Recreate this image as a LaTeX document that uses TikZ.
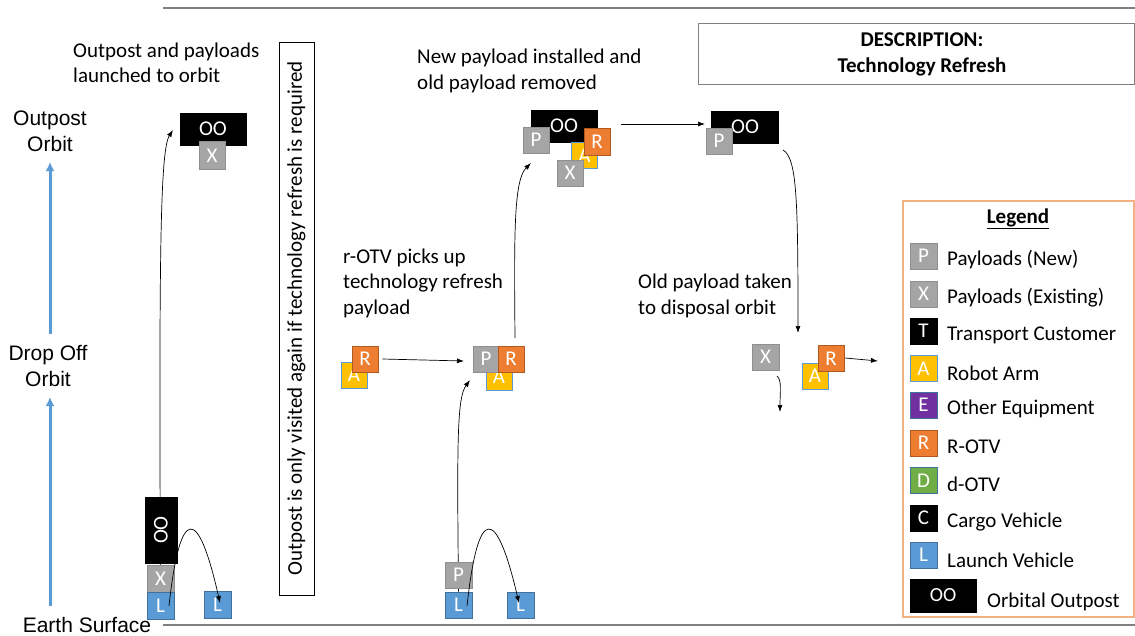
\documentclass[tikz,border=0pt]{standalone}
\usepackage{fontspec}
\setmainfont{Carlito}
\newfontfamily\arialf{Liberation Sans}
\usetikzlibrary{arrows.meta,backgrounds}

\definecolor{pgray}{HTML}{A5A5A5}
\definecolor{pgrayd}{HTML}{8F8F8F}
\definecolor{lblue}{HTML}{5B9BD5}
\definecolor{lblued}{HTML}{41719C}
\definecolor{ayel}{HTML}{FFC000}
\definecolor{rorg}{HTML}{ED7D31}
\definecolor{rorgd}{HTML}{AE5A21}
\definecolor{epur}{HTML}{7030A0}
\definecolor{dgrn}{HTML}{70AD47}
\definecolor{legline}{HTML}{F4B183}
\definecolor{rule}{HTML}{808080}

\tikzset{
  tag/.style={draw, minimum width=26, minimum height=26, inner sep=0, text=white,
    font=\fontsize{21}{21}\selectfont, line width=0.8},
  pbox/.style={tag, fill=pgray, draw=pgrayd},
  lbox/.style={tag, fill=lblue, draw=lblued},
  abox/.style={tag, fill=ayel, draw=lblue},
  rbox/.style={tag, fill=rorg, draw=rorgd},
  ebox/.style={tag, fill=epur, draw=lblued},
  dbox/.style={tag, fill=dgrn, draw=lblued},
  kbox/.style={tag, fill=black, draw=black},
  oobox/.style={tag, fill=black, draw=black, minimum width=66, minimum height=32,
    font=\fontsize{21}{21}\selectfont},
  conn/.style={-{Latex[length=7,width=5]}, line width=0.7},
  lbl/.style={font=\fontsize{21}{25.5}\selectfont, align=left, inner sep=0, anchor=west},
  axis/.style={font=\arialf\fontsize{21}{26}\selectfont, align=center, inner sep=0},
  axisarrow/.style={draw=lblue, line width=3, -{Latex[length=9,width=9]}},
  legtxt/.style={font=\fontsize{21}{21}\selectfont, inner sep=0, anchor=west},
}

\begin{document}
\begin{tikzpicture}[x=1pt,y=-1pt]
\useasboundingbox (0,0) rectangle (1135,635);

% frame rules
\draw[rule, line width=1.5] (163,8) -- (1135,8);
\draw[rule, line width=1.5] (163,625) -- (1135,625);

% altitude axis
\node[axis] (oorb) at (50,131) {Outpost\\Orbit};
\node[axis] (dorb) at (48,366) {Drop Off\\Orbit};
\node[axis] (earth) at (87,625) {Earth Surface};
\coordinate (ax1s) at (50,606);
\coordinate (ax1e) at (50,397);
\coordinate (ax2s) at (50,334);
\coordinate (ax2e) at (50,162);
\draw[axisarrow] (ax1s) -- (ax1e);
\draw[axisarrow] (ax2s) -- (ax2e);

% stage 1: launch of the outpost
\node[lbl] (t1) at (73,63) {Outpost and payloads\\launched to orbit};
\node[oobox] (oo1) at (213,129) {OO};
\node[pbox, minimum height=28] (x1) at (212,155.5) {X};

\node[oobox, minimum width=32, minimum height=66] (oo2) at (161,530) {\rotatebox{90}{OO}};
\node[pbox, minimum width=27, minimum height=27] (x2) at (160.5,578.5) {X};
\node[lbox, minimum width=27, minimum height=27] (l1) at (160.5,606) {L};
\node[lbox, minimum width=27, minimum height=27] (l2) at (217.5,605) {L};

% note box
\node[draw, line width=0.9, rotate=90, minimum width=553, minimum height=35, inner sep=0,
      font=\fontsize{21}{21}\selectfont] (note) at (296.5,318.5)
  {Outpost is only visited again if technology refresh is required};

% stage 2: r-OTV collects the new payload
\node[lbl] (t2) at (343,283) {r-OTV picks up\\technology refresh\\payload};
\node[abox] (a2) at (354,375) {A};
\node[rbox] (r2) at (365,359) {R};

\node[abox] (a3) at (499,377) {A};
\node[pbox] (p3) at (486,359) {P};
\node[rbox] (r3) at (511,359) {R};

\node[pbox, minimum width=27] (p4) at (458.5,575) {P};
\node[lbox, minimum width=27] (l4) at (458.5,605) {L};
\node[lbox, minimum width=27] (l5) at (520.5,605) {L};

% stage 3: payload swap at the outpost
\node[lbl] (t3) at (417,71) {New payload installed and\\old payload removed};
\node[oobox] (oo3) at (564,126) {OO};
\node[pbox] (p5) at (536,140) {P};
\node[abox] (a5) at (584.5,155.5) {A};
\node[pbox] (x5) at (570,173) {X};
\node[rbox, minimum height=27] (r5) at (597,141.5) {R};

% stage 4: refreshed outpost and disposal
\node[oobox, minimum width=67] (oo4) at (745,127) {OO};
\node[pbox] (p6) at (719,141) {P};

\node[lbl] (t4) at (638,296) {Old payload taken\\to disposal orbit};
\node[pbox, minimum width=27] (x6) at (765.5,357) {X};
\node[abox] (a6) at (815,376) {A};
\node[rbox] (r6) at (831,358.5) {R};

% description
\node[draw=rule, line width=1, minimum width=436, minimum height=61, inner sep=0]
  (desc) at (916.5,53.5) {};
\node[font=\bfseries\fontsize{21}{26}\selectfont, align=center, inner sep=0]
  (desct) at (922,54) {DESCRIPTION:\\Technology Refresh};

% legend
\node[draw=legline, line width=1.2, minimum width=231, minimum height=416, inner sep=0]
  (leg) at (1018.5,409) {};
\node[font=\bfseries\fontsize{21}{21}\selectfont, inner sep=0] (legt) at (1018,219) {\underline{Legend}};
\node[pbox, minimum width=27] (k1) at (923.5,256) {P};
\node[legtxt] at (947,260) {Payloads (New)};
\node[pbox, minimum width=27] (k2) at (923.5,294) {X};
\node[legtxt] at (947,298) {Payloads (Existing)};
\node[kbox, minimum width=27] (k3) at (923.5,331) {T};
\node[legtxt] at (947,335) {Transport Customer};
\node[abox, minimum width=27] (k4) at (923.5,368.5) {A};
\node[legtxt] at (947,373) {Robot Arm};
\node[ebox, minimum width=27] (k5) at (923.5,405) {E};
\node[legtxt] at (947,409) {Other Equipment};
\node[rbox, minimum width=27] (k6) at (923.5,443) {R};
\node[legtxt] at (947,447) {R-OTV};
\node[dbox, minimum width=27] (k7) at (923.5,480.5) {D};
\node[legtxt] at (947,484) {d-OTV};
\node[kbox, minimum width=27] (k8) at (923.5,518) {C};
\node[legtxt] at (947,522) {Cargo Vehicle};
\node[lbox, minimum width=27] (k9) at (923.5,555) {L};
\node[legtxt] at (947,560) {Launch Vehicle};
\node[oobox, minimum height=33, font=\fontsize{20}{20}\selectfont] (k10) at (943,595.5) {OO};
\node[legtxt] at (987,602) {Orbital Outpost};

% connector end points
\coordinate (e1) at (173,130);
\coordinate (e3) at (464,361);
\coordinate (e4) at (470,380);
\coordinate (s5) at (515,338);
\coordinate (e5) at (531,163);
\coordinate (s6) at (621,124);
\coordinate (e6) at (705,124);
\coordinate (s7) at (783,150);
\coordinate (e7) at (798,333);
\coordinate (s8) at (777,376);
\coordinate (e8) at (780,412);
\coordinate (s9) at (845,358);
\coordinate (e9) at (878,361);
\coordinate (h1s) at (169,606);
\coordinate (h1e) at (220,603);
\coordinate (h2s) at (467,606);
\coordinate (h2e) at (519,603);

% transfers drawn behind the vehicles
\begin{scope}[on background layer]
  \draw[conn] (l1.north) .. controls (159,260) and (160,150) .. (e1);
  \draw[conn] (l4.north) .. controls (457,440) and (457,398) .. (e4);
\end{scope}

\draw[conn] ([xshift=4pt]r2.east) -- (e3);
\draw[conn] (s5) .. controls (514,230) and (514,180) .. (e5);
\draw[conn] (s6) -- (e6);
\draw[conn] (s7) .. controls (797,158) and (798,200) .. (e7);
\draw[conn] (s8) .. controls (782,380) and (780,392) .. (e8);
\draw[conn] (s9) -- (e9);

% launch vehicle returns
\draw[conn] (h1s) .. controls (180,505) and (198,505) .. (h1e);
\draw[conn] (h2s) .. controls (478,505) and (496,505) .. (h2e);
\end{tikzpicture}
\end{document}
